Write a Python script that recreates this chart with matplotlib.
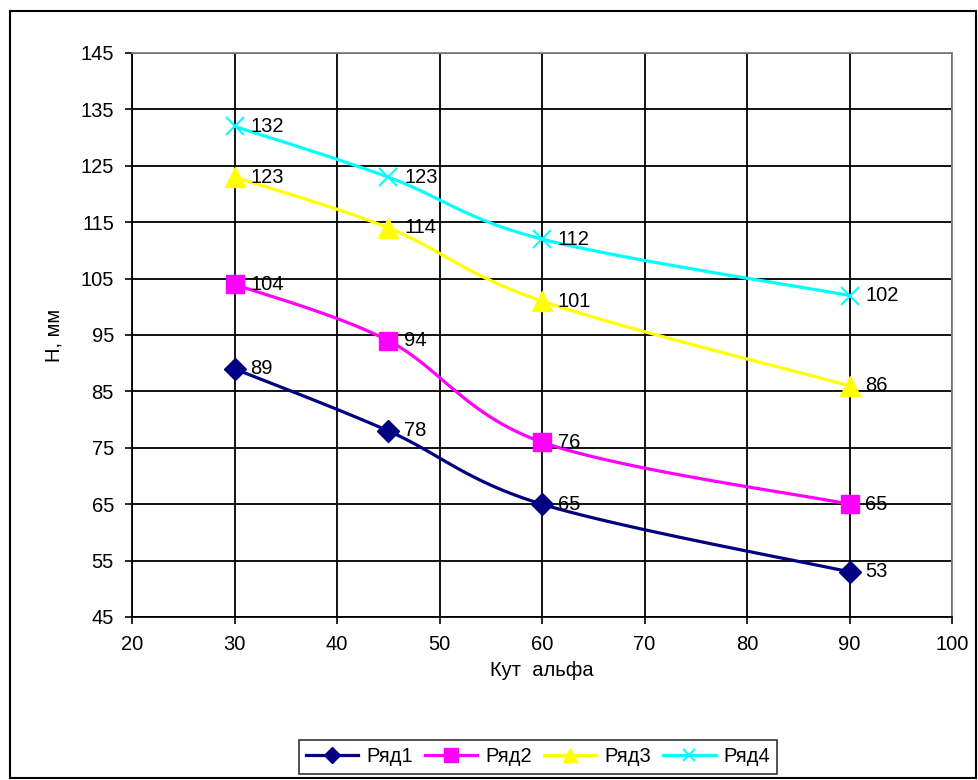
import numpy as np
import matplotlib
matplotlib.use("Agg")
import matplotlib.pyplot as plt
from matplotlib.patches import Rectangle

plt.rcParams['font.family'] = ['Liberation Sans', 'DejaVu Sans']

# ------ data ----------------
angles = [30, 45, 60, 90]
row1 = [89, 78, 65, 53]
row2 = [104, 94, 76, 65]
row3 = [123, 114, 101, 86]
row4 = [132, 123, 112, 102]
names = ['Ряд1', 'Ряд2', 'Ряд3', 'Ряд4']
x_ticks = [20, 30, 40, 50, 60, 70, 80, 90, 100]
y_ticks = [45, 55, 65, 75, 85, 95, 105, 115, 125, 135, 145]

FS = 14.5

# pixel scale of the axes, used so the smoothing looks like Excel's
sx = 820 / 80.0
sy = 564 / 100.0


def smooth(xs, ys, n=40):
    '''Excel-like smoothed line: cubic Bezier segments, control
    points from neighbouring points (1/6 rule), in pixel space'''
    P = np.column_stack([np.array(xs) * sx, np.array(ys) * sy])
    out = []
    for i in range(len(P) - 1):
        p0 = P[i - 1] if i > 0 else P[i]
        p1 = P[i]
        p2 = P[i + 1]
        p3 = P[i + 2] if i + 2 < len(P) else P[i + 1]
        c1 = p1 + (p2 - p0) / 6.0
        c2 = p2 - (p3 - p1) / 6.0
        t = np.linspace(0, 1, n)[:, None]
        seg = ((1 - t) ** 3) * p1 + 3 * ((1 - t) ** 2) * t * c1 \
            + 3 * (1 - t) * t ** 2 * c2 + t ** 3 * p2
        out.append(seg if i == 0 else seg[1:])
    pts = np.vstack(out)
    return pts[:, 0] / sx, pts[:, 1] / sy


fig = plt.figure(figsize=(9.79, 7.8), dpi=100)
ax = fig.add_axes([132 / 979, 1 - 617 / 780, 820 / 979, 564 / 780])

# outer frame
fig.patches.append(Rectangle((10 / 979, 1 - 778 / 780), 966 / 979, 767 / 780,
                             transform=fig.transFigure, fill=False,
                             edgecolor='black', lw=1.5))

series = [row1, row2, row3, row4]
colors = ['#000080', '#FF00FF', '#FFFF00', '#00FFFF']
markers = ['D', 's', '^', 'x']
msizes = [11.5, 13.5, 14.5, 13]

handles = []
for vals, c, m, ms, name in zip(series, colors, markers, msizes, names):
    sxs, sys_ = smooth(angles, vals)
    ax.plot(sxs, sys_, color=c, lw=2.3, zorder=3)
    ax.plot(angles, vals, linestyle='none', marker=m, color=c, ms=ms,
            mew=1.5 if m == 'x' else 1, zorder=4)
    h, = ax.plot([], [], color=c, lw=2.3, marker=m, ms=ms * 0.7,
                 mew=1.5 if m == 'x' else 1)
    handles.append(h)
    for a, v in zip(angles, vals):
        ax.annotate(str(v), (a, v), xytext=(11.5, 0), textcoords='offset points',
                    va='center', ha='left', fontsize=FS, zorder=5)

ax.set_xlim(20, 100)
ax.set_ylim(45, 145)
ax.set_xticks(x_ticks)
ax.set_yticks(y_ticks)
ax.tick_params(labelsize=FS, direction='out', length=5, width=1.2,
               color='black', pad=8)
ax.tick_params(axis='x', pad=8)
ax.grid(True, color='black', lw=1.3)
ax.set_axisbelow(True)
for s in ['left', 'bottom']:
    ax.spines[s].set_color('black')
    ax.spines[s].set_linewidth(1.3)
for s in ['top', 'right']:
    ax.spines[s].set_color('#808080')
    ax.spines[s].set_linewidth(1.3)

ax.set_xlabel('Кут  альфа', fontsize=FS, labelpad=5)
ax.set_ylabel('Н, мм', fontsize=FS, labelpad=12)

leg = fig.legend(handles, names, loc='center', bbox_to_anchor=(538 / 979, 1 - 757 / 780),
                 ncol=4, fontsize=FS, frameon=True, fancybox=False,
                 edgecolor='black', handlelength=2.6, columnspacing=0.6,
                 handletextpad=0.4, borderpad=0.35)
leg.get_frame().set_linewidth(1.2)

plt.savefig('out.png')
